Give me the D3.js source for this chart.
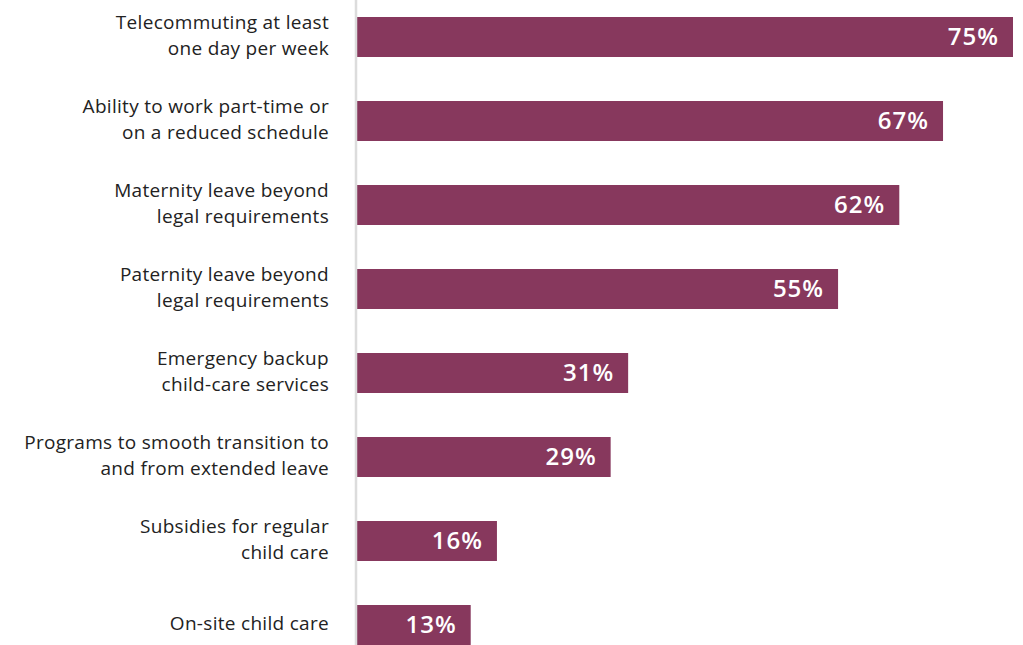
<!DOCTYPE html>
<html lang="en">
<head>
    <meta charset="UTF-8">
    <title>Benefits offered</title>
    <script src="https://d3js.org/d3.v7.min.js"></script>
    <style>
        body { margin: 0; background: #fff; }
        .cat-label { font-family: "Open Sans", "Lato", sans-serif; font-size: 19px; letter-spacing: 0.3px; fill: #222; }
        .val-label { font-family: "Open Sans", "Lato", sans-serif; font-size: 24px; font-weight: 600; letter-spacing: 1px; fill: #fff; }
    </style>
</head>
<body>
    <div id="chart"></div>
    <script>
        // data
        var categories = [
            ["Telecommuting at least", "one day per week"],
            ["Ability to work part-time or", "on a reduced schedule"],
            ["Maternity leave beyond", "legal requirements"],
            ["Paternity leave beyond", "legal requirements"],
            ["Emergency backup", "child-care services"],
            ["Programs to smooth transition to", "and from extended leave"],
            ["Subsidies for regular", "child care"],
            ["On-site child care"]
        ];
        var values = [75, 67, 62, 55, 31, 29, 16, 13];

        var width = 1023, height = 645;
        var svg = d3.select("#chart").append("svg")
            .attr("width", width)
            .attr("height", height);

        var idx = d3.range(values.length);

        var x = d3.scaleLinear()
            .domain([0, 75])
            .range([357, 1013]);

        var y = d3.scaleBand()
            .domain(idx)
            .range([-5, 667])
            .paddingInner(0.524)
            .paddingOuter(0.262);

        // bars
        svg.selectAll("rect.bar")
            .data(idx)
            .enter()
            .append("rect")
            .attr("class", "bar")
            .attr("x", x(0))
            .attr("y", function (i) { return y(i); })
            .attr("width", function (i) { return x(values[i]) - x(0); })
            .attr("height", y.bandwidth())
            .attr("fill", "#87385d");

        // axis line
        svg.append("line")
            .attr("x1", 356).attr("x2", 356)
            .attr("y1", 0).attr("y2", height)
            .attr("stroke", "#dcdcdc")
            .attr("stroke-width", 2.5);

        // value labels
        svg.selectAll("text.val-label")
            .data(idx)
            .enter()
            .append("text")
            .attr("class", "val-label")
            .attr("x", function (i) { return x(values[i]) - 14; })
            .attr("y", function (i) { return y(i) + y.bandwidth() / 2; })
            .attr("dy", "0.32em")
            .attr("text-anchor", "end")
            .text(function (i) { return values[i] + "%"; });

        // category labels
        var lab = svg.selectAll("text.cat-label")
            .data(idx)
            .enter()
            .append("text")
            .attr("class", "cat-label")
            .attr("text-anchor", "end")
            .attr("y", function (i) { return y(i) + y.bandwidth() / 2; });

        lab.each(function (i) {
            var lines = categories[i];
            var t = d3.select(this);
            lines.forEach(function (ln, k) {
                var off = (k - (lines.length - 1) / 2) * 26;
                t.append("tspan")
                    .attr("x", 329)
                    .attr("y", y(i) + y.bandwidth() / 2 + off - 2)
                    .attr("dy", "0.35em")
                    .text(ln);
            });
        });
    </script>
</body>
</html>
